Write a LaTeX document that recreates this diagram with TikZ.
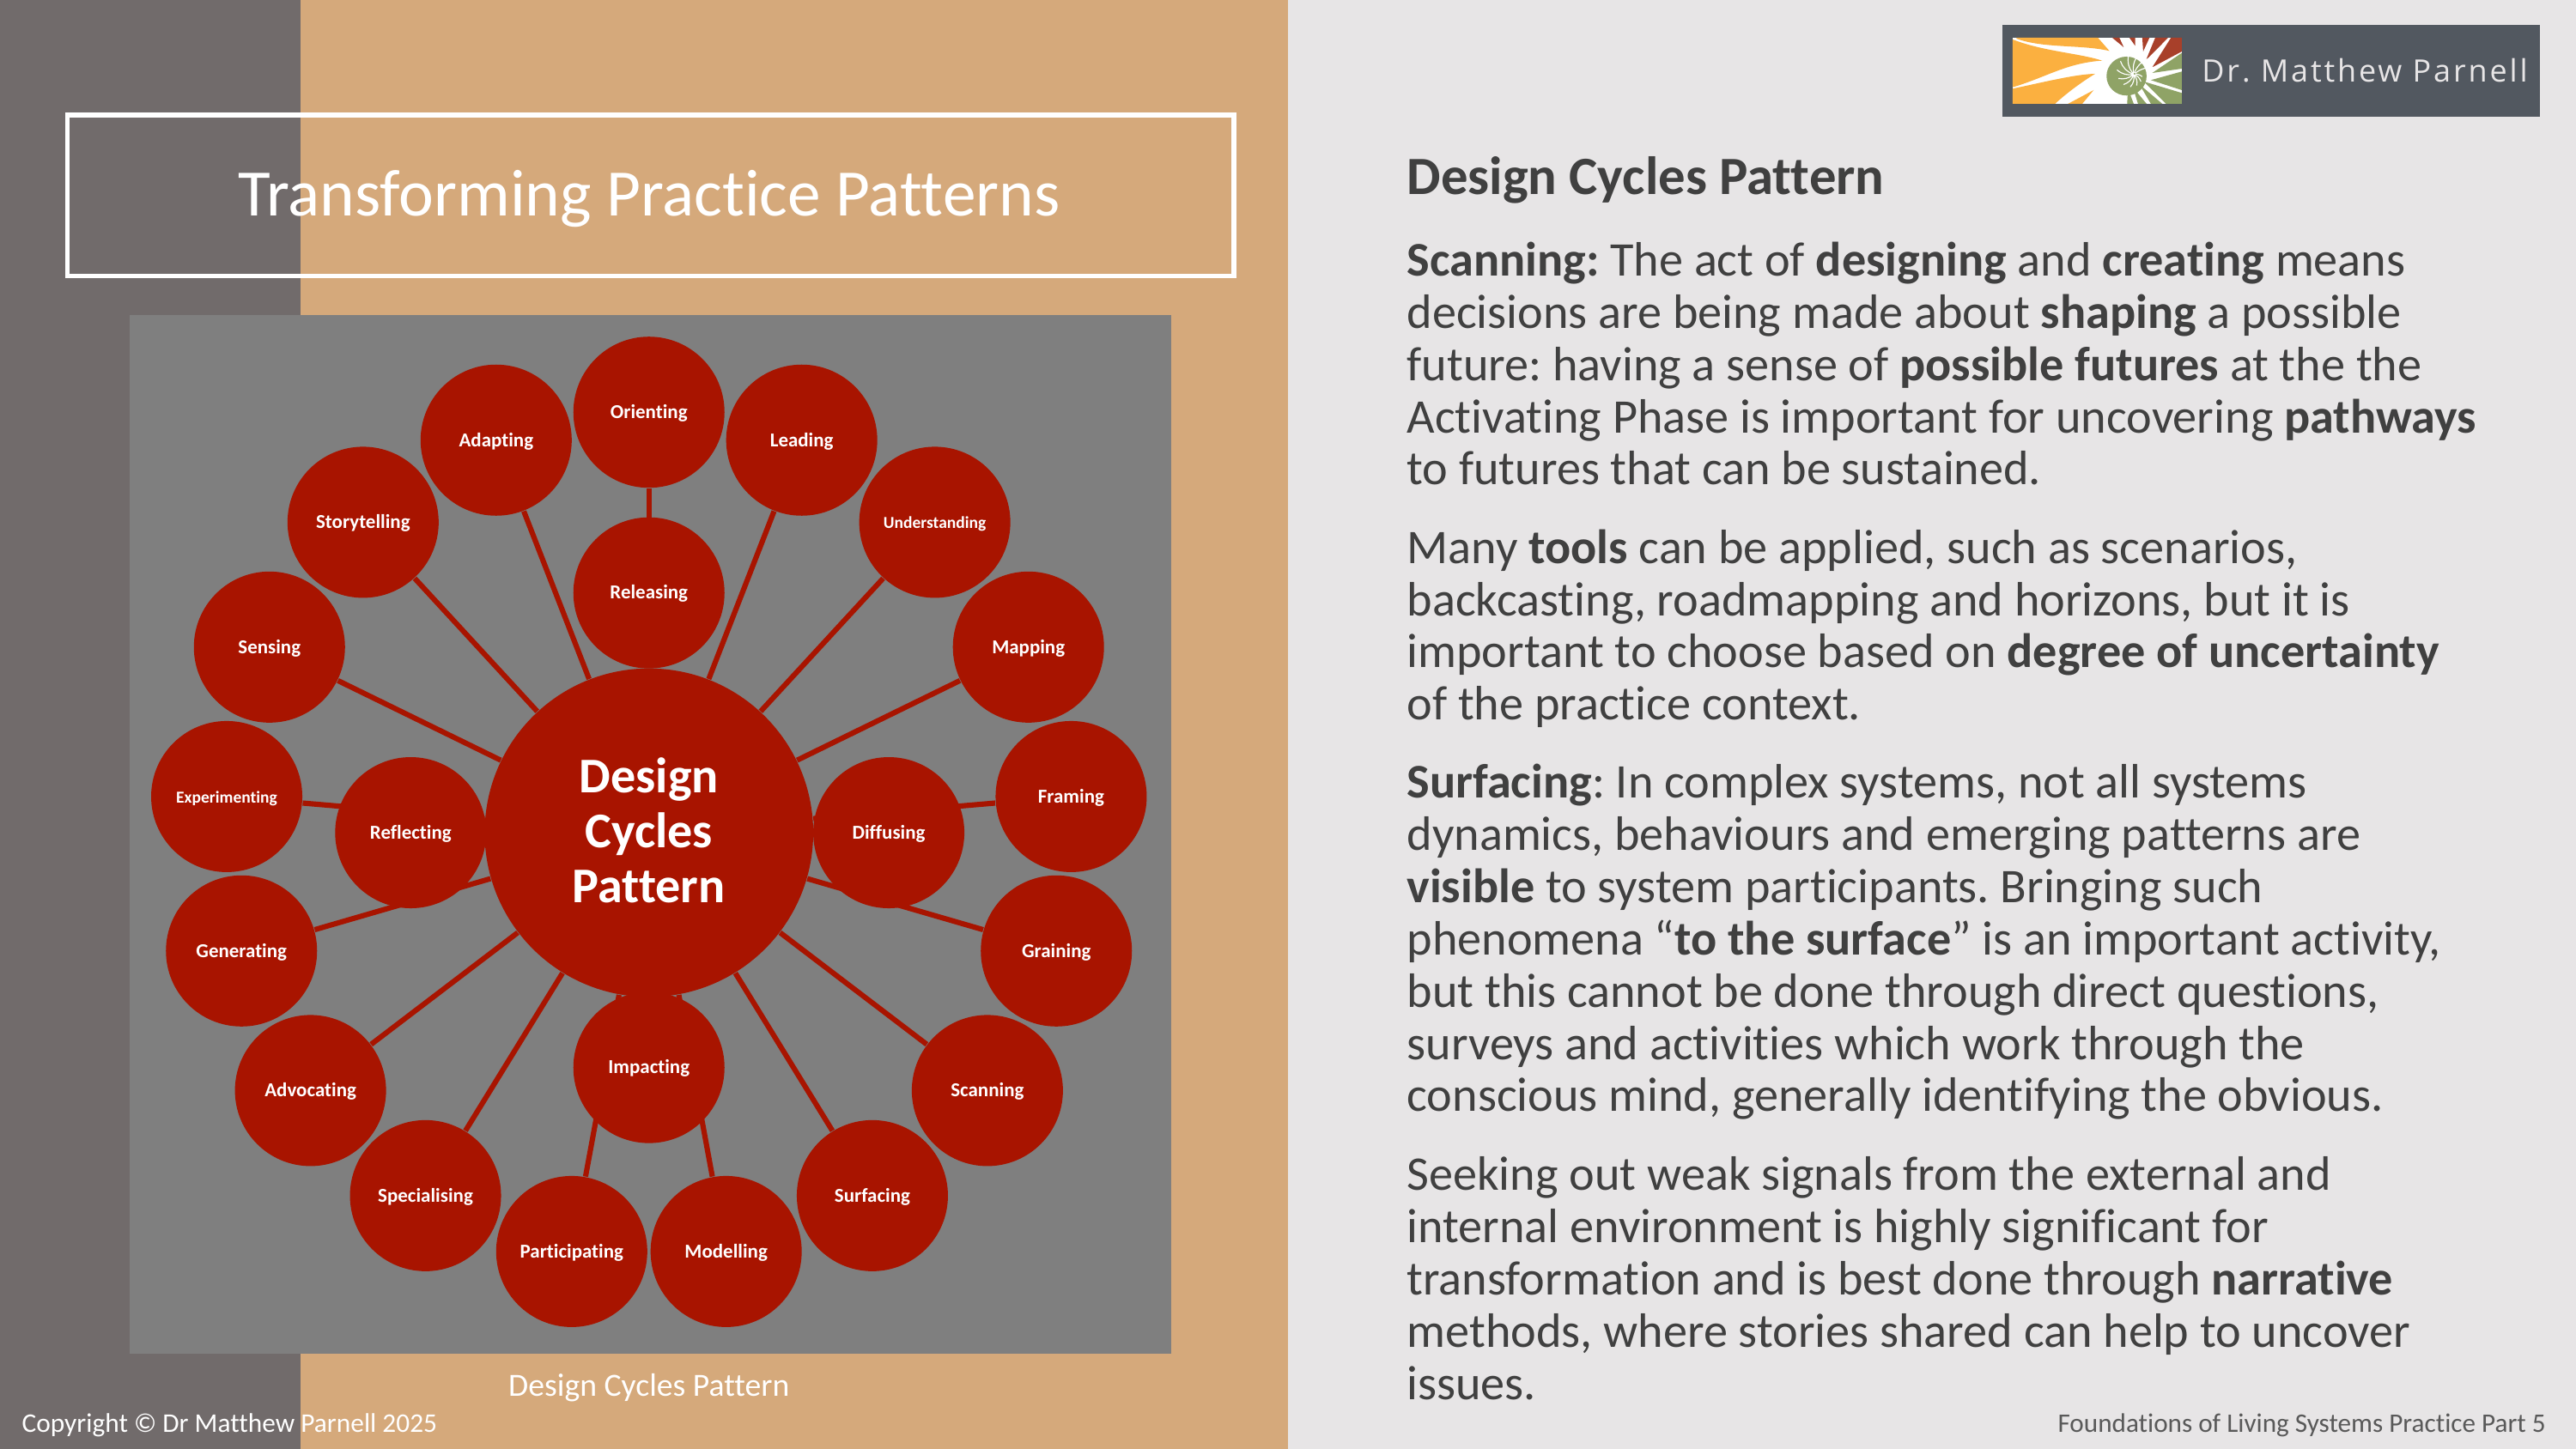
\documentclass[tikz,border=0pt]{standalone}
\usepackage{fontspec}
\setmainfont{Carlito}[Ligatures=NoCommon]
\newfontfamily\logofont{Open Sans}
\usetikzlibrary{backgrounds}
\frenchspacing
\definecolor{slate}{HTML}{716B6B}
\definecolor{tan}{HTML}{D5A97B}
\definecolor{pale}{HTML}{E7E5E6}
\definecolor{panel}{HTML}{7F7F7F}
\definecolor{brick}{HTML}{A81400}
\definecolor{inkgrey}{HTML}{404040}
\definecolor{footgrey}{HTML}{595959}
\definecolor{bar}{HTML}{525860}
\definecolor{sunorange}{HTML}{FBB040}
\definecolor{sage}{HTML}{8FA366}
\definecolor{rust}{HTML}{A8402A}
\newcommand\squeezed[1]{{\fontsize{5.1}{6}\selectfont #1}}
\tikzset{
 leaf/.style={circle,fill=brick,text=white,inner sep=0pt,minimum size=46pt,align=center,text height=4.6pt,text depth=.8pt,font=\fontsize{6}{7}\selectfont\bfseries},
 hub/.style={circle,fill=brick,text=white,inner sep=0pt,minimum size=100pt,align=center,font=\fontsize{15.2}{16.8}\selectfont\bfseries},
 link/.style={draw=brick,line width=1.6pt},
 body/.style={anchor=north west,inner sep=0pt,align=left,text=inkgrey,font=\fontsize{14.7}{15.9}\selectfont},
 caption/.style={inner sep=0pt,text=white}
}
\begin{document}
\begin{tikzpicture}[x=.5pt,y=-.5pt]
\useasboundingbox (0,0) rectangle (1568,882);
\begin{scope}[on background layer]
\fill[pale] (0,0) rectangle (1568,882);
\fill[tan] (0,0) rectangle (784,882);
\fill[slate] (0,0) rectangle (183,882);
\fill[panel] (79,192) rectangle (713,824);
\end{scope}
\draw[white,line width=1.5pt] (41,70) rectangle (751,168);
\node[caption,font=\fontsize{20.2}{22}\selectfont] (title) at (395,121) {Transforming Practice Patterns};
\node[caption,font=\fontsize{9.85}{11}\selectfont] (cap) at (395,845) {Design Cycles Pattern};
\node[caption,anchor=west,font=\fontsize{8.2}{10}\selectfont] (copy) at (13,868) {Copyright © Dr Matthew Parnell 2025};
\node[hub] (hub) at (395,507) {Design\\Cycles\\Pattern\rule[-1.5pt]{0pt}{0pt}};
\foreach \n/\x/\y/\t in {orient/395/251/Orienting,lead/488/268/Leading,under/569/318/\squeezed{Understanding},
 map/626/394/Mapping,frame/652/485/Framing,grain/643/579/Graining,scan/601/664/Scanning,
 surf/531/728/Surfacing,model/442/762/Modelling,part/348/762/Participating,spec/259/728/Specialising,
 advo/189/664/Advocating,gen/147/579/Generating,exper/138/485/\squeezed{Experimenting},sense/164/394/Sensing,
 story/221/318/Storytelling,adapt/302/268/Adapting}{
 \node[leaf] (\n) at (\x,\y) {\t};
 \scoped[on background layer] \draw[link] (hub)--(\n);}
\foreach \n/\x/\y/\t in {rel/395/361/Releasing,diff/541/507/Diffusing,imp/395/650/Impacting,refl/250/507/Reflecting}
 \node[leaf] (\n) at (\x,\y) {\t};
\fill[bar] (1219,15) rectangle (1546,71);
\begin{scope}[shift={(1223,20.9)},x=.0871pt,y=-.0871pt]
\fill[white] (12,12) rectangle (603,243);
\fill[sunorange] (25,12) -- (310,12) -- (350,58) .. controls (250,35) and (120,50) .. (25,15) -- cycle;
\fill[sunorange] (12,18) .. controls (120,60) and (240,65) .. (325,92) .. controls (200,100) and (130,150) .. (12,185) -- cycle;
\fill[sunorange] (12,190) .. controls (130,165) and (230,140) .. (300,138) .. controls (240,175) and (190,215) .. (160,243) -- (12,243) -- cycle;
\fill[sunorange] (205,243) -- (295,195) -- (255,243) -- cycle;
\fill[rust] (360,12) -- (400,45) -- (385,12) -- cycle;
\fill[rust] (420,12) -- (440,40) -- (440,12) -- cycle;
\fill[rust] (465,12) -- (468,60) -- (490,12) -- cycle;
\fill[rust] (510,12) -- (478,90) -- (555,12) -- cycle;
\fill[rust] (565,12) -- (500,115) -- (603,60) -- (603,12) -- cycle;
\fill[sage] (603,65) -- (500,135) -- (603,120) -- cycle;
\fill[sage] (603,130) -- (495,160) -- (603,195) -- cycle;
\fill[sage] (603,205) -- (470,165) -- (548,243) -- (603,243) -- cycle;
\fill[sage] (535,243) -- (455,175) -- (495,243) -- cycle;
\fill[sage] (480,243) -- (432,185) -- (450,243) -- cycle;
\fill[sage] (435,243) -- (415,190) -- (412,243) -- cycle;
\fill[sage] (410,146) ellipse [x radius=70,y radius=68];
\foreach \a in {15,45,...,345}
 \draw[white,line width=.3pt] (435,140) to[bend left=25] +(\a:\a/6+28);
\fill[white] (435,140) circle [radius=9];
\fill[sage] (438,138) circle [radius=3.5];
\end{scope}
\node[anchor=east,inner sep=0pt,text=pale,font=\logofont\fontsize{9.4}{11}\selectfont\addfontfeature{LetterSpace=8}] (brand) at (1539,43) {Dr. Matthew Parnell};
\node[body,font=\fontsize{16.4}{18}\selectfont\bfseries] (head) at (856,95) {Design Cycles Pattern};
\node[body] (p1) at (856,147) {\textbf{Scanning:} The act of \textbf{designing} and \textbf{creating} means\\
decisions are being made about \textbf{shaping} a possible\\
future: having a sense of \textbf{possible futures} at the the\\
Activating Phase is important for uncovering \textbf{pathways}\\
to futures that can be sustained.};
\node[body] (p2) at (856,322) {Many \textbf{tools} can be applied, such as scenarios,\\
backcasting, roadmapping and horizons, but it is\\
important to choose based on \textbf{degree of uncertainty}\\
of the practice context.};
\node[body] (p3) at (856,465) {\textbf{Surfacing}: In complex systems, not all systems\\
dynamics, behaviours and emerging patterns are\\
\textbf{visible} to system participants. Bringing such\\
phenomena “\textbf{to the surface}” is an important activity,\\
but this cannot be done through direct questions,\\
surveys and activities which work through the\\
conscious mind, generally identifying the obvious.};
\node[body] (p4) at (856,704) {Seeking out weak signals from the external and\\
internal environment is highly significant for\\
transformation and is best done through \textbf{narrative}\\
methods, where stories shared can help to uncover\\
issues.};
\node[anchor=east,inner sep=0pt,text=footgrey,font=\fontsize{8.15}{10}\selectfont] (foot) at (1550,868) {Foundations of Living Systems Practice Part 5};
\end{tikzpicture}
\end{document}
